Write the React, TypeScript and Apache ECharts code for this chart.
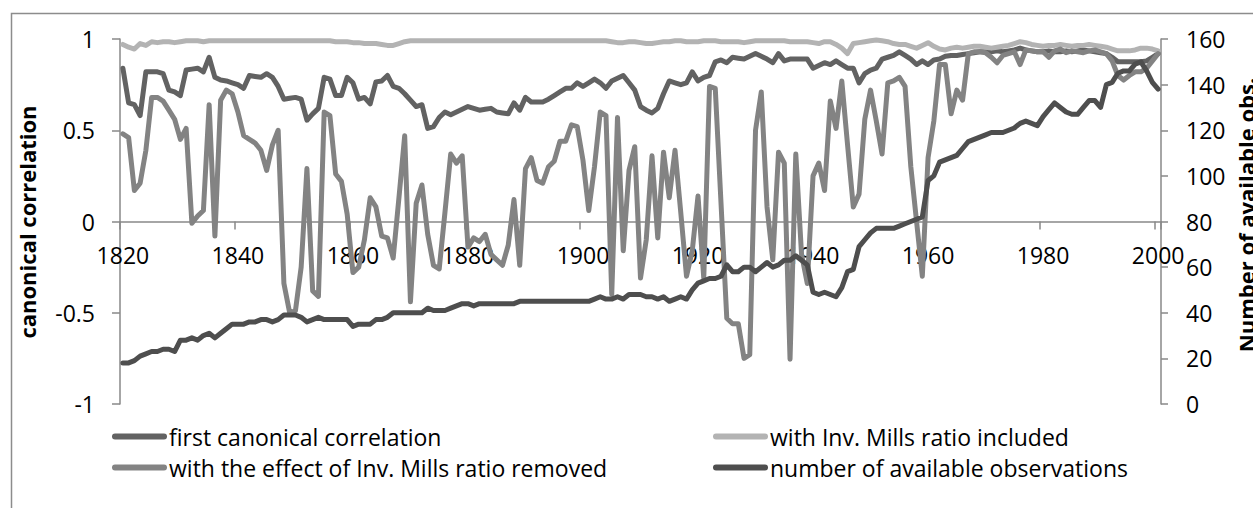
import React, { useEffect, useRef } from "react";
import * as echarts from "echarts";

const FIRST_YEAR = 1820;
const LAST_YEAR = 2000;
const years: string[] = [];
for (let y = FIRST_YEAR; y <= LAST_YEAR; y++) years.push(String(y));

const xLabelYears = ["1820", "1840", "1860", "1880", "1900", "1920", "1940", "1960", "1980", "2000"];

const seriesNames = [
  "first canonical correlation",
  "with Inv. Mills ratio included",
  "with the effect of Inv. Mills ratio removed",
  "number of available observations",
];

// first canonical correlation, 1820..2000
const canonical = [
  0.84, 0.65, 0.64, 0.58, 0.82, 0.82, 0.82, 0.81, 0.72, 0.71,
  0.69, 0.83, 0.835, 0.84, 0.82, 0.90, 0.79, 0.775, 0.77, 0.76,
  0.75, 0.73, 0.80, 0.795, 0.79, 0.81, 0.79, 0.74, 0.67, 0.675,
  0.68, 0.67, 0.555, 0.59, 0.62, 0.79, 0.78, 0.69, 0.69, 0.79,
  0.76, 0.67, 0.68, 0.645, 0.765, 0.77, 0.80, 0.74, 0.73, 0.70,
  0.665, 0.63, 0.64, 0.51, 0.52, 0.57, 0.60, 0.585, 0.60, 0.615,
  0.63, 0.62, 0.61, 0.615, 0.62, 0.60, 0.595, 0.59, 0.65, 0.61,
  0.68, 0.655, 0.655, 0.655, 0.67, 0.69, 0.71, 0.73, 0.73, 0.76,
  0.74, 0.76, 0.78, 0.76, 0.73, 0.77, 0.785, 0.80, 0.76, 0.72,
  0.63, 0.61, 0.595, 0.62, 0.70, 0.77, 0.76, 0.75, 0.76, 0.82,
  0.77, 0.79, 0.80, 0.875, 0.885, 0.87, 0.90, 0.895, 0.89, 0.905,
  0.92, 0.905, 0.89, 0.87, 0.92, 0.88, 0.89, 0.89, 0.89, 0.89,
  0.84, 0.855, 0.87, 0.86, 0.88, 0.86, 0.84, 0.84, 0.76, 0.81,
  0.83, 0.84, 0.89, 0.90, 0.91, 0.93, 0.91, 0.89, 0.86, 0.88,
  0.86, 0.885, 0.89, 0.905, 0.91, 0.91, 0.915, 0.92, 0.925, 0.93,
  0.93, 0.93, 0.935, 0.93, 0.935, 0.94, 0.95, 0.94, 0.935, 0.93,
  0.93, 0.935, 0.93, 0.93, 0.935, 0.93, 0.935, 0.94, 0.935, 0.93,
  0.925, 0.92, 0.90, 0.875, 0.875, 0.875, 0.875, 0.875, 0.88, 0.90,
  0.92,
];

// with Inv. Mills ratio included, 1820..2000
const millsIncluded = [
  0.97, 0.955, 0.945, 0.975, 0.965, 0.985, 0.98, 0.985, 0.985, 0.98,
  0.985, 0.99, 0.99, 0.99, 0.985, 0.99, 0.99, 0.99, 0.99, 0.99,
  0.99, 0.99, 0.99, 0.99, 0.99, 0.99, 0.99, 0.99, 0.99, 0.99,
  0.99, 0.99, 0.99, 0.99, 0.99, 0.99, 0.99, 0.985, 0.985, 0.985,
  0.98, 0.98, 0.975, 0.975, 0.975, 0.97, 0.965, 0.965, 0.975, 0.985,
  0.99, 0.99, 0.99, 0.99, 0.99, 0.99, 0.99, 0.99, 0.99, 0.99,
  0.99, 0.99, 0.99, 0.99, 0.99, 0.99, 0.99, 0.99, 0.99, 0.99,
  0.99, 0.99, 0.99, 0.99, 0.99, 0.99, 0.99, 0.99, 0.99, 0.99,
  0.99, 0.99, 0.99, 0.99, 0.99, 0.985, 0.98, 0.98, 0.985, 0.985,
  0.98, 0.975, 0.975, 0.98, 0.985, 0.985, 0.99, 0.99, 0.985, 0.985,
  0.985, 0.99, 0.99, 0.99, 0.985, 0.985, 0.985, 0.985, 0.98, 0.985,
  0.99, 0.99, 0.99, 0.99, 0.99, 0.99, 0.985, 0.985, 0.985, 0.985,
  0.98, 0.975, 0.985, 0.985, 0.97, 0.95, 0.92, 0.975, 0.98, 0.985,
  0.99, 0.995, 0.99, 0.985, 0.975, 0.97, 0.97, 0.96, 0.95, 0.965,
  0.98, 0.96, 0.945, 0.94, 0.95, 0.955, 0.95, 0.955, 0.96, 0.96,
  0.955, 0.95, 0.955, 0.96, 0.965, 0.975, 0.985, 0.98, 0.97, 0.965,
  0.96, 0.965, 0.965, 0.97, 0.965, 0.96, 0.965, 0.965, 0.97, 0.965,
  0.96, 0.955, 0.945, 0.935, 0.935, 0.935, 0.94, 0.95, 0.95, 0.945,
  0.935,
];

// with the effect of Inv. Mills ratio removed, 1820..2000
const millsRemoved = [
  0.48, 0.46, 0.17, 0.21, 0.39, 0.68, 0.68, 0.66, 0.61, 0.56,
  0.45, 0.51, -0.01, 0.03, 0.06, 0.64, -0.08, 0.665, 0.72, 0.70,
  0.60, 0.47, 0.45, 0.43, 0.39, 0.28, 0.42, 0.50, -0.34, -0.50,
  -0.49, -0.25, 0.29, -0.38, -0.41, 0.60, 0.58, 0.26, 0.22, 0.04,
  -0.28, -0.25, -0.10, 0.13, 0.08, -0.08, -0.09, -0.20, 0.13, 0.47,
  -0.44, 0.10, 0.20, -0.07, -0.24, -0.26, 0.05, 0.37, 0.32, 0.36,
  -0.14, -0.09, -0.11, -0.07, -0.18, -0.21, -0.24, -0.13, 0.12, -0.24,
  0.29, 0.35, 0.225, 0.21, 0.30, 0.33, 0.44, 0.44, 0.53, 0.52,
  0.335, 0.06, 0.30, 0.60, 0.58, -0.40, 0.57, -0.16, 0.28, 0.41,
  -0.31, -0.10, 0.36, -0.09, 0.38, 0.13, 0.39, 0.05, -0.30, -0.16,
  0.14, -0.31, 0.74, 0.73, 0.10, -0.53, -0.56, -0.56, -0.75, -0.73,
  0.50, 0.71, 0.08, -0.21, 0.38, 0.32, -0.755, 0.37, -0.18, -0.34,
  0.25, 0.32, 0.17, 0.66, 0.51, 0.77, 0.42, 0.08, 0.15, 0.56,
  0.72, 0.55, 0.37, 0.76, 0.77, 0.79, 0.74, 0.30, 0.0, -0.30,
  0.35, 0.55, 0.86, 0.86, 0.59, 0.72, 0.665, 0.92, 0.93, 0.93,
  0.925, 0.90, 0.87, 0.91, 0.92, 0.93, 0.86, 0.94, 0.935, 0.93,
  0.93, 0.90, 0.935, 0.945, 0.925, 0.935, 0.93, 0.925, 0.935, 0.94,
  0.93, 0.92, 0.88, 0.80, 0.775, 0.80, 0.82, 0.82, 0.84, 0.88,
  0.92,
];

// number of available observations (right axis), 1820..2000
const observations = [
  18, 18, 19, 21, 22, 23, 23, 24, 24, 23,
  28, 28, 29, 28, 30, 31, 29, 31, 33, 35,
  35, 35, 36, 36, 37, 37, 36, 37, 39, 39,
  39, 38, 36, 37, 38, 37, 37, 37, 37, 37,
  34, 35, 35, 35, 37, 37, 38, 40, 40, 40,
  40, 40, 40, 42, 41, 41, 41, 42, 43, 44,
  44, 43, 44, 44, 44, 44, 44, 44, 44, 45,
  45, 45, 45, 45, 45, 45, 45, 45, 45, 45,
  45, 45, 46, 47, 46, 46, 47, 46, 48, 48,
  48, 47, 47, 46, 47, 45, 46, 47, 46, 50,
  53, 54, 55, 55, 56, 61, 58, 58, 60, 60,
  58, 60, 62, 60, 61, 63, 63, 65, 63, 61,
  49, 48, 49, 48, 47, 51, 58, 59, 69, 72,
  75, 77, 77, 77, 77, 78, 79, 80, 81, 82,
  98, 100, 106, 107, 108, 109, 112, 115, 116, 117,
  118, 119, 119, 119, 120, 121, 123, 124, 123, 122,
  126, 129, 132, 130, 128, 127, 127, 130, 133, 133,
  130, 140, 141, 145, 146, 146, 149, 150, 146, 141,
  138,
];

const seriesColors = ["#626262", "#b3b3b3", "#838383", "#4e4e4e"];

const FONT = "'Open Sans', sans-serif";
const AXIS_GRAY = "#898989";
const CAPSULE = "path://M3,0H52A3,3,0,0,1,52,6H3A3,3,0,0,1,3,0Z";

export default function App() {
  const ref = useRef<HTMLDivElement>(null);

  useEffect(() => {
    document.body.style.margin = "0";
    const chart = echarts.init(ref.current!, undefined, { renderer: "svg" });
    const showYear = (_i: number, v: string) => xLabelYears.indexOf(String(v)) >= 0;

    const axisLineStyle = { color: AXIS_GRAY, width: 1.5 };
    const labelStyle = { fontSize: 23, color: "#000", fontFamily: FONT };

    const legendPos = [
      { left: 112, top: 425 },
      { left: 713, top: 425 },
      { left: 112, top: 456 },
      { left: 713, top: 456 },
    ];

    const dataSets = [canonical, millsIncluded, millsRemoved, observations];

    chart.setOption({
      animation: false,
      textStyle: { fontFamily: FONT },
      grid: { left: 120, right: 92, top: 39, bottom: 104, containLabel: false },
      xAxis: {
        type: "category",
        data: years,
        boundaryGap: true,
        position: "bottom",
        offset: -182.5,
        axisLine: { show: true, onZero: false, lineStyle: axisLineStyle },
        axisTick: { show: true, interval: showYear, length: 8, inside: false, lineStyle: axisLineStyle },
        axisLabel: { ...labelStyle, interval: showYear, margin: 22 },
        splitLine: { show: false },
      },
      yAxis: [
        {
          type: "value",
          min: -1,
          max: 1,
          interval: 0.5,
          position: "left",
          axisLine: { show: true, onZero: false, lineStyle: axisLineStyle },
          axisTick: { show: true, length: 8, lineStyle: axisLineStyle },
          axisLabel: { ...labelStyle, margin: 25 },
          splitLine: { show: false },
        },
        {
          type: "value",
          min: 0,
          max: 160,
          interval: 20,
          position: "right",
          axisLine: { show: true, onZero: false, lineStyle: axisLineStyle },
          axisTick: { show: true, length: 7, lineStyle: axisLineStyle },
          axisLabel: { ...labelStyle, margin: 25 },
          splitLine: { show: false },
        },
      ],
      legend: seriesNames.map((name, i) => ({
        data: [name],
        left: legendPos[i].left,
        top: legendPos[i].top,
        padding: 0,
        itemWidth: 55,
        itemHeight: 6,
        icon: CAPSULE,
        textStyle: { fontSize: 23, color: "#000", fontFamily: FONT, padding: [0, 0, 0, -3] },
      })),
      series: seriesNames.map((name, i) => ({
        name,
        type: "line",
        yAxisIndex: i === 3 ? 1 : 0,
        data: dataSets[i],
        showSymbol: false,
        symbol: "none",
        color: seriesColors[i],
        lineStyle: { color: seriesColors[i], width: 5, cap: "round", join: "round" },
        emphasis: { disabled: true },
      })),
      graphic: [
        {
          type: "rect",
          shape: { x: 11.5, y: 13.5, width: 1400, height: 700 },
          style: { fill: "none", stroke: "#8c8c8c", lineWidth: 1.5 },
          silent: true,
        },
        {
          type: "text",
          x: 27,
          y: 222,
          rotation: Math.PI / 2,
          style: {
            text: "canonical correlation",
            fill: "#000",
            font: `bold 22px ${FONT}`,
            align: "center",
            verticalAlign: "middle",
            textAlign: "center",
            textVerticalAlign: "middle",
          },
        },
        {
          type: "text",
          x: 1246,
          y: 215,
          rotation: Math.PI / 2,
          style: {
            text: "Number of available obs.",
            fill: "#000",
            font: `bold 22px ${FONT}`,
            align: "center",
            verticalAlign: "middle",
            textAlign: "center",
            textVerticalAlign: "middle",
          },
        },
      ],
    });
    return () => chart.dispose();
  }, []);

  return (
    <div
      style={{
        position: "fixed",
        left: 0,
        top: 0,
        width: 1253,
        height: 508,
        overflow: "hidden",
        background: "#fff",
      }}
    >
      <div ref={ref} style={{ width: 1253, height: 508 }} />
    </div>
  );
}
